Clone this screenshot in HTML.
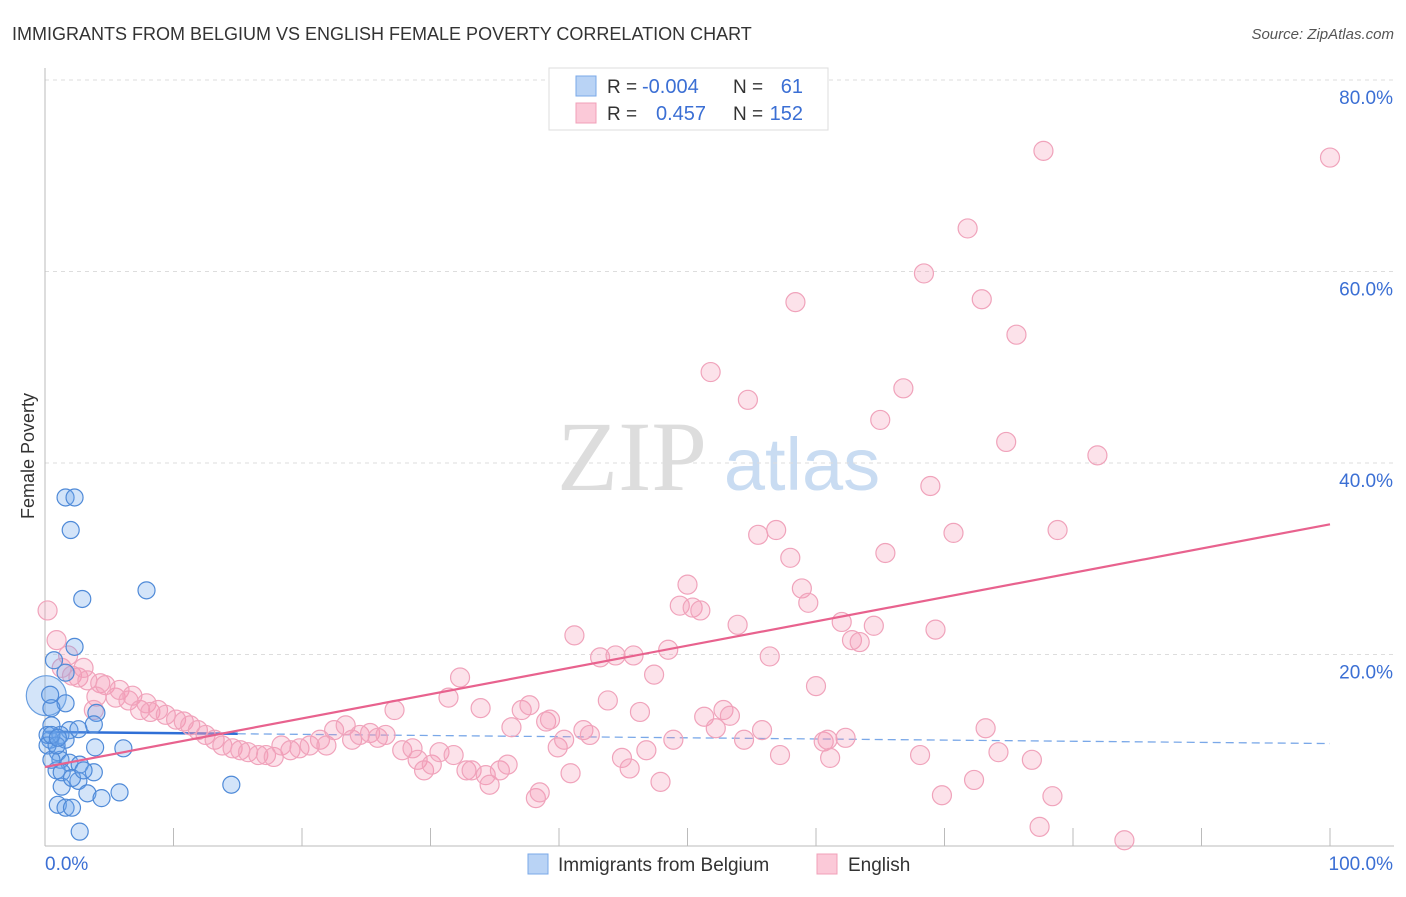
<!DOCTYPE html>
<html><head><meta charset="utf-8">
<style>
body{margin:0;background:#fff;font-family:"Liberation Sans",sans-serif;}
svg text{font-family:"Liberation Sans",sans-serif;}
</style></head>
<body>
<svg id="chart" width="1406" height="892" viewBox="0 0 1406 892" xmlns="http://www.w3.org/2000/svg">
<text x="12" y="40" font-size="18" fill="#333">IMMIGRANTS FROM BELGIUM VS ENGLISH FEMALE POVERTY CORRELATION CHART</text>
<text x="1394" y="39" font-size="15" fill="#555" font-style="italic" text-anchor="end">Source: ZipAtlas.com</text>
<text transform="translate(34,456) rotate(-90)" font-size="18" fill="#333" text-anchor="middle">Female Poverty</text>
<g>
<text x="632" y="490" font-size="100" fill="#ddd" font-family="Liberation Serif" text-anchor="middle" style="font-family:'Liberation Serif',serif">ZIP</text>
<text x="802" y="490" font-size="74" fill="#c9dcf2" text-anchor="middle">atlas</text>
</g>
<g id="grid"></g>
<g id="axes"></g>
<g id="trend"></g>
<g id="points"></g>
<g>
<rect x="549" y="68" width="279" height="62" fill="#fff" stroke="#ddd"/>
<rect x="576" y="76" width="20" height="20" fill="#b9d3f5" stroke="#7aa8e8"/>
<rect x="576" y="103" width="20" height="20" fill="#fbc9d8" stroke="#f0a0b8"/>
<text x="607" y="93" font-size="19" fill="#333">R =</text>
<text x="642" y="93" font-size="20" fill="#3b6fd4">-0.004</text>
<text x="733" y="93" font-size="19" fill="#333">N =</text>
<text x="803" y="93" font-size="20" fill="#3b6fd4" text-anchor="end">61</text>
<text x="607" y="120" font-size="19" fill="#333">R =</text>
<text x="656" y="120" font-size="20" fill="#3b6fd4">0.457</text>
<text x="733" y="120" font-size="19" fill="#333">N =</text>
<text x="803" y="120" font-size="20" fill="#3b6fd4" text-anchor="end">152</text>
</g>
<g>
<rect x="528" y="854" width="20" height="20" fill="#b9d3f5" stroke="#7aa8e8"/>
<text x="558" y="871" font-size="19" fill="#333">Immigrants from Belgium</text>
<rect x="817" y="854" width="20" height="20" fill="#fbc9d8" stroke="#f0a0b8"/>
<text x="848" y="871" font-size="19" fill="#333">English</text>
</g>
</svg>
<script>
const yTicks=[20,40,60,80];
const yTickLabels=["20.0%","40.0%","60.0%","80.0%"];
const xTicks=[0,10,20,30,40,50,60,70,80,90,100];
const blueX=[1.6,2.3,2.0,2.9,7.9,2.3,0.7,1.6,1.6,4.0,0.5,3.8,0.5,1.9,2.6,3.9,6.1,1.0,1.2,1.9,2.7,0.9,1.3,3.8,2.6,1.3,3.3,4.4,5.8,1.0,1.6,2.1,2.7,14.5,0.4,0.2,0.2,0.5,0.4,1.2,1.6,0.9,2.1,3.0,0.5,1.0];
const blueY=[36.4,36.4,33.0,25.8,26.7,20.8,19.4,18.1,14.9,13.9,14.4,12.7,12.6,12.1,12.2,10.3,10.2,9.8,9.0,8.7,8.5,7.9,7.7,7.7,6.8,6.2,5.5,5.0,5.6,4.3,4.0,4.0,1.5,6.4,11.1,11.6,10.5,9.0,15.8,11.6,11.1,10.5,7.1,7.9,11.6,11.3];
const pinkX=[0.2,0.9,1.8,1.3,2.1,2.6,3.0,3.3,4.3,4.7,4.0,5.5,5.8,6.5,6.8,3.8,7.4,7.9,8.2,8.8,9.4,10.2,10.8,11.3,11.9,12.5,13.2,13.8,14.6,15.2,15.8,16.6,17.2,17.8,18.4,19.1,19.8,20.6,21.4,21.9,22.5,23.4,23.9,24.5,25.3,25.9,26.5,27.2,27.8,28.6,29.0,29.5,30.1,30.7,31.4,31.8,32.3,32.8,33.2,33.9,34.3,34.6,35.4,36.0,36.3,37.1,37.7,38.2,38.5,39.0,39.3,39.9,40.4,40.9,41.2,41.9,42.4,43.2,43.8,44.4,44.9,45.5,45.8,46.3,46.8,47.4,47.9,48.5,48.9,49.4,50.0,50.4,51.0,51.3,51.8,52.2,52.8,53.3,53.9,54.4,54.7,55.5,55.8,56.4,56.9,57.2,58.0,58.4,58.9,59.4,60.0,60.6,60.9,61.1,62.0,62.3,62.8,63.4,64.5,65.0,65.4,66.8,68.1,68.4,68.9,69.3,69.8,70.7,71.8,72.3,72.9,73.2,74.2,74.8,75.6,76.8,77.4,77.7,78.4,78.8,81.9,84.0,100];
const pinkY=[24.6,21.5,19.9,18.6,17.8,17.6,18.6,17.3,17.0,16.8,15.6,15.5,16.3,15.2,15.7,14.2,14.2,14.9,14.0,14.2,13.7,13.2,13.0,12.6,12.1,11.6,11.1,10.5,10.2,10.0,9.8,9.5,9.5,9.3,10.5,10.0,10.2,10.5,11.1,10.5,12.1,12.6,11.1,11.6,11.8,11.3,11.6,14.2,10.0,10.2,9.0,7.9,8.5,9.8,15.5,9.5,17.6,7.9,7.9,14.4,7.4,6.4,7.9,8.5,12.4,14.2,14.7,5.0,5.6,13.0,13.2,10.3,11.1,7.6,22.0,12.1,11.6,19.7,15.2,19.9,9.2,8.1,19.9,14.0,10.0,17.9,6.7,20.5,11.1,25.1,27.3,24.9,24.6,13.5,49.5,12.3,14.2,13.6,23.1,11.1,46.6,32.5,12.1,19.8,33.0,9.5,30.1,56.8,26.9,25.4,16.7,10.9,11.1,9.2,23.4,11.3,21.5,21.3,23.0,44.5,30.6,47.8,9.5,59.8,37.6,22.6,5.3,32.7,64.5,6.9,57.1,12.3,9.8,42.2,53.4,9.0,2.0,72.6,5.2,33.0,40.8,0.6,71.9];
const blueTrend=[11.9,10.7];
const pinkTrend=[8.25,33.6];
const NS="http://www.w3.org/2000/svg";
const xs=v=>45+v*12.85;
const ys=v=>846-v*9.575;
function mk(tag,attrs,parent){const e=document.createElementNS(NS,tag);for(const k in attrs)e.setAttribute(k,attrs[k]);parent.appendChild(e);return e;}
const grid=document.getElementById('grid'),axes=document.getElementById('axes'),trend=document.getElementById('trend'),pts=document.getElementById('points');
yTicks.forEach((t,i)=>{
 const l=mk('line',{x1:45,x2:1394,y1:ys(t),y2:ys(t),stroke:'#ddd','stroke-dasharray':'4,4'},grid);
 
 
 const tx=mk('text',{x:1393,y:ys(t)+24,'font-size':19,fill:'#3b6fd4','text-anchor':'end'},axes);
 tx.textContent=yTickLabels[i];
 
 
});
const ax=mk('line',{x1:45,x2:1394,y1:846,y2:846,stroke:'#bbb'},axes);


const ay=mk('line',{x1:45,x2:45,y1:68,y2:846,stroke:'#bbb'},axes);


xTicks.forEach(t=>{
 const l=mk('line',{x1:xs(t),x2:xs(t),y1:828,y2:846,stroke:'#bbb'},axes);
 
 
});
const x0=mk('text',{x:45,y:870,'font-size':19,fill:'#3b6fd4'},axes);x0.textContent='0.0%';


const x1=mk('text',{x:1393,y:870,'font-size':19,fill:'#3b6fd4','text-anchor':'end'},axes);x1.textContent='100.0%';


const big=mk('circle',{cx:xs(0.1),cy:ys(15.7),r:20,fill:'rgba(110,165,235,0.3)',stroke:'#6a9fe0','stroke-width':1.2},pts);


pinkX.forEach((x,i)=>{
 const c=mk('circle',{cx:xs(x),cy:ys(pinkY[i]),r:9.5,fill:'rgba(245,150,180,0.28)',stroke:'#f0a3bb','stroke-width':1.2},pts);
 
 
});
blueX.forEach((x,i)=>{
 const c=mk('circle',{cx:xs(x),cy:ys(blueY[i]),r:8.5,fill:'rgba(110,165,235,0.3)',stroke:'#4f8ad8','stroke-width':1.2},pts);
 
 
});
const bs=mk('line',{x1:xs(0),x2:xs(15),y1:ys(blueTrend[0]),y2:ys(blueTrend[0]+(blueTrend[1]-blueTrend[0])*0.15),stroke:'#2f6fd6','stroke-width':2.5},trend);


const bd=mk('line',{x1:xs(15),x2:xs(100),y1:ys(blueTrend[0]+(blueTrend[1]-blueTrend[0])*0.15),y2:ys(blueTrend[1]),stroke:'#7aa8e8','stroke-width':1.3,'stroke-dasharray':'8,5'},trend);


const pt=mk('line',{x1:xs(0),x2:xs(100),y1:ys(pinkTrend[0]),y2:ys(pinkTrend[1]),stroke:'#e8628e','stroke-width':2.2},pts);


</script>
</body></html>
